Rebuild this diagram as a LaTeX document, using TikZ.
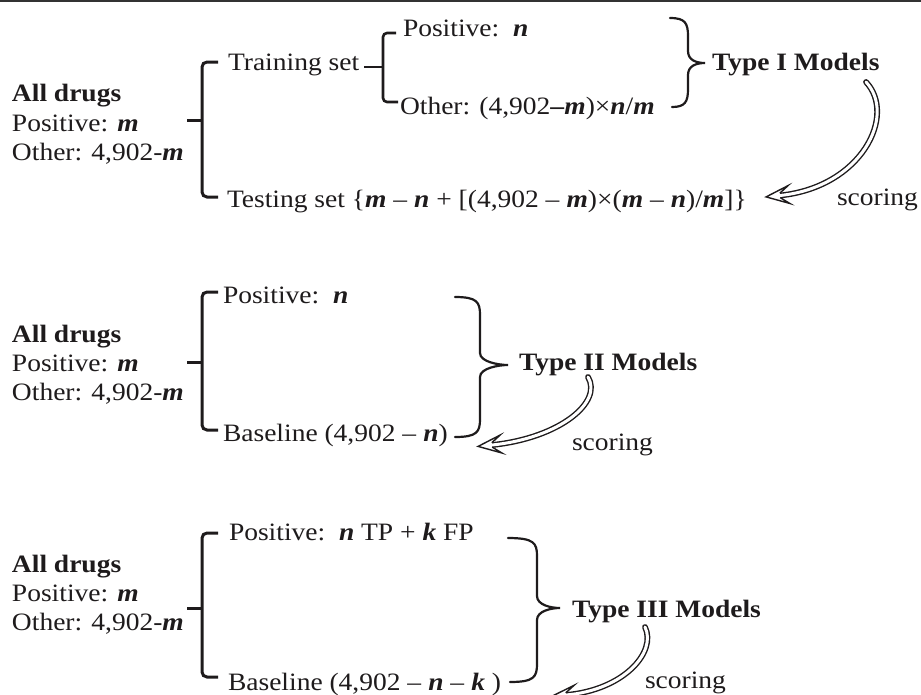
\documentclass[tikz,border=0pt]{standalone}
\usepackage{fontspec}
\setmainfont{Liberation Serif}[FakeStretch=1.1]
\usetikzlibrary{arrows.meta}
\definecolor{ink}{RGB}{30,27,28}
\newcommand{\bv}[1]{\textbf{\textit{#1}}}
\newcommand{\bigbrk}[3]{%
  \draw[bigbrk] (218,#1) -- (202,#1) -- (202,#3) -- (218,#3);
  \draw[bigbrk] (187,#2) -- (202,#2);}
\newcommand{\rbrc}[7]{%
  \draw[rbrk] (#1,#2) .. controls (#3-3,#2) and (#3,#2+5) .. (#3,#2+18)
    -- (#3,#5-12) .. controls (#3,#5-3) and (#4-9,#5) .. (#4,#5)
    .. controls (#4-9,#5) and (#3,#5+3) .. (#3,#5+12)
    -- (#3,#6-18) .. controls (#3,#6-5) and (#3-3,#6) .. (#7,#6);}
\newcommand{\hollowhead}[3]{%
  \begin{scope}[shift={(#1,#2)}, rotate=#3]
    \fill[white] (14,2.2) -- (23,9) -- (0,0) -- (23,-9) -- (14,-2.2) -- cycle;
    \draw[ink, line width=1.4pt, line join=miter] (14,2.2) -- (23,9) -- (0,0) -- (23,-9) -- (14,-2.2);
  \end{scope}}
\begin{document}
\begin{tikzpicture}[x=1pt,y=-1pt,
  txt/.style={anchor=base west, inner sep=0pt, outer sep=0pt, text=ink, font=\fontsize{25}{30}\selectfont},
  bigbrk/.style={draw=ink, line width=3pt, rounded corners=5pt},
  smallbrk/.style={draw=ink, line width=2.6pt, rounded corners=4pt},
  rbrk/.style={draw=ink, line width=2.2pt, line cap=round},
  scorearrow/.style={draw=ink, double=white, double distance=3pt, line width=1.4pt, line cap=round}]
\useasboundingbox (0,0) rectangle (921,694);
\fill[white] (0,0) rectangle (921,694);
\draw[line width=2pt, black!80] (0,1) -- (921,1);

% ---------- panel 1 ----------
\node[txt] (a1) at (12,101) {\textbf{All drugs}};
\node[txt] (p1) at (12,131) {Positive: \bv{m}};
\node[txt] (o1) at (12,160) {Other: 4,902-\bv{m}};
\bigbrk{62}{120}{197}
\node[txt] (tr) at (228,70) {Training set};
\draw[smallbrk] (396,33) -- (383,33) -- (383,102) -- (398,102);
\draw[smallbrk] (364,67) -- (383,67);
\node[txt] (tp) at (403,36) {Positive:~~\bv{n}};
\node[txt] (to) at (400,114) {Other: (4,902\textbf{–}\bv{m})×\bv{n}/\bv{m}};
\node[txt] (ts) at (227,207) {Testing set \{\bv{m} – \bv{n} + [(4,902 – \bv{m})×(\bv{m} – \bv{n})/\bv{m}]\}};
\rbrc{670}{18}{688}{705}{63}{107}{672}
\node[txt] (t1) at (712,70) {\textbf{Type I Models}};
\node[txt] (s1) at (837,205) {scoring};
\coordinate (s1a) at (866,82);
\coordinate (s1b) at (780,195.5);
\draw[scorearrow] (s1a) .. controls (897,115) and (862,187) .. (s1b);
\hollowhead{766.1}{196.9}{5.9}

% ---------- panel 2 ----------
\node[txt] (a2) at (12,342) {\textbf{All drugs}};
\node[txt] (p2) at (12,371) {Positive: \bv{m}};
\node[txt] (o2) at (12,400) {Other: 4,902-\bv{m}};
\bigbrk{292}{362}{430}
\node[txt] (pp2) at (223,303) {Positive:~~\bv{n}};
\node[txt] (b2) at (223,441) {Baseline (4,902 – \bv{n})};
\rbrc{455}{297}{480}{508}{365}{437}{455}
\node[txt] (t2) at (519,370) {\textbf{Type II Models}};
\node[txt] (s2) at (572,450) {scoring};
\coordinate (s2a) at (588,377);
\coordinate (s2b) at (492,445);
\draw[scorearrow] (s2a) .. controls (603,402) and (560,438) .. (s2b);
\hollowhead{478.1}{446.4}{5.9}

% ---------- panel 3 ----------
\node[txt] (a3) at (12,572) {\textbf{All drugs}};
\node[txt] (p3) at (12,601) {Positive: \bv{m}};
\node[txt] (o3) at (12,630) {Other: 4,902-\bv{m}};
\bigbrk{533}{608}{677}
\node[txt] (pp3) at (229,540) {Positive:~~\bv{n} TP + \bv{k} FP};
\node[txt] (b3) at (228,690) {Baseline (4,902 – \bv{n} – \bv{k} )};
\rbrc{508}{538}{537}{560}{608}{682}{510}
\node[txt] (t3) at (572,617) {\textbf{Type III Models}};
\node[txt] (s3) at (645,688) {scoring};
\coordinate (s3a) at (645,627);
\coordinate (s3b) at (566,695);
\draw[scorearrow] (s3a) .. controls (657,652) and (624,690) .. (s3b);
\hollowhead{552}{696.2}{4.9}
\end{tikzpicture}
\end{document}
